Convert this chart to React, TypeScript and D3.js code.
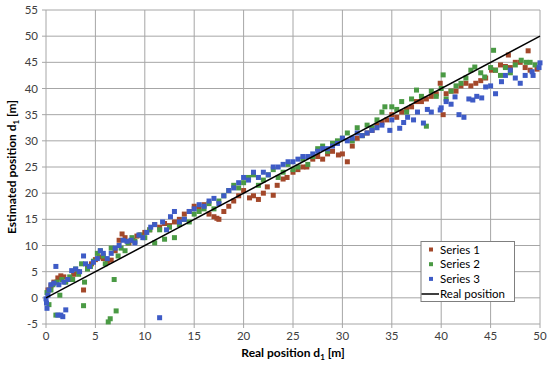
import React from "react";
import * as d3 from "d3";

const xTicks = [0, 5, 10, 15, 20, 25, 30, 35, 40, 45, 50];
const yTicks = [-5, 0, 5, 10, 15, 20, 25, 30, 35, 40, 45, 50, 55];

const s1x = [0.2,0.5,0.8,1.2,1.5,1.8,2.3,2.8,3.2,3.8,4.2,4.6,5.0,5.4,5.8,6.2,6.6,7.0,7.4,7.7,8.0,8.4,8.8,9.2,9.6,10.0,10.5,11.0,11.5,12.0,12.5,13.0,13.5,14.0,14.5,15.0,15.5,16.0,16.5,17.0,17.3,17.5,18.0,18.5,19.0,19.5,20.0,20.6,21.0,21.5,22.0,22.4,23.0,23.4,24.0,24.4,25.0,25.5,26.0,26.4,27.0,27.5,28.0,28.5,29.0,29.6,30.0,30.5,31.0,31.5,32.0,32.5,33.0,33.5,34.0,34.5,35.0,35.5,36.0,36.5,37.0,37.5,38.0,38.5,39.0,39.5,39.9,40.2,40.5,41.0,41.5,42.0,42.5,43.0,43.5,44.0,44.5,45.1,45.5,46.0,46.5,46.8,47.0,47.5,48.0,48.5,48.8,49.0,49.7];
const s1y = [1.5,2.3,3.0,3.8,4.2,4.0,3.5,4.5,5.0,1.5,6.0,6.5,7.3,7.8,7.5,6.8,7.2,9.0,11.0,12.2,11.5,10.5,11.0,11.8,12.0,12.5,13.0,14.0,13.5,14.2,13.8,14.5,15.0,16.0,16.5,17.5,17.0,17.8,16.0,15.5,15.2,15.0,16.5,17.5,18.5,19.5,20.5,19.1,19.5,18.8,20.0,21.2,19.6,21.5,22.7,23.0,24.0,24.5,25.0,25.0,26.5,27.0,26.5,27.5,28.0,27.3,27.5,26.0,29.0,30.5,31.0,31.5,32.0,33.0,33.5,34.0,35.0,34.5,35.5,36.0,36.5,37.5,37.5,38.0,38.5,39.0,41.0,35.0,39.0,39.5,39.5,40.5,41.0,40.5,41.0,41.5,42.0,43.5,43.5,44.5,44.2,46.4,44.0,45.0,45.0,44.0,47.2,43.5,43.7];

const s2x = [0.1,0.3,0.5,0.7,1.0,1.1,1.4,1.6,2.0,2.4,2.7,3.0,3.3,3.6,3.8,3.9,4.2,4.5,4.8,5.2,5.5,5.8,6.0,6.3,6.5,6.6,6.9,7.1,7.3,7.6,8.0,8.3,8.7,9.0,9.5,10.0,10.5,11.0,11.5,12.0,12.5,13.0,13.5,14.0,14.5,15.0,15.5,16.0,16.5,17.0,17.5,18.0,18.5,19.0,19.5,20.0,20.5,21.0,21.5,22.0,22.5,23.0,23.5,24.0,24.5,25.0,25.5,26.0,26.5,27.0,27.5,28.0,28.5,29.0,29.5,30.0,30.5,31.0,31.5,32.0,32.5,33.0,33.5,34.0,34.3,35.0,35.5,36.0,36.5,37.0,37.5,38.0,38.5,39.0,39.5,40.0,40.2,40.5,41.0,41.5,42.0,42.5,43.0,43.4,44.0,44.4,45.0,45.3,45.5,46.0,46.5,47.0,47.5,48.1,48.6,49.0,49.5];
const s2y = [1.0,-1.3,1.5,2.5,-3.3,3.0,0.5,3.5,3.0,4.0,3.5,5.5,4.5,6.5,-1.5,3.0,5.5,6.0,7.0,8.5,9.0,8.0,6.5,-4.6,-4.0,9.5,3.5,-2.5,8.0,9.5,9.0,10.5,11.5,10.8,12.0,11.5,13.0,10.5,13.0,11.2,13.5,11.5,14.0,15.0,14.5,16.0,16.5,17.0,18.0,17.0,18.5,19.5,20.5,21.5,21.0,22.0,23.0,23.5,21.5,22.5,23.5,24.5,23.0,24.0,25.5,24.5,25.0,26.5,25.5,27.0,28.5,29.0,28.0,29.5,30.0,30.5,31.5,30.0,32.5,31.0,33.0,32.5,34.0,35.5,36.5,36.5,36.0,37.5,35.5,38.0,39.7,38.5,32.8,39.5,38.5,40.0,42.6,38.0,39.5,40.5,41.0,42.0,43.5,44.1,43.0,42.2,44.0,47.3,43.5,42.5,44.0,43.0,44.5,45.4,45.0,45.0,44.5];

const s3x = [0.0,0.05,0.1,0.2,0.3,0.5,0.8,1.0,1.2,1.3,1.5,1.7,1.8,2.0,2.2,2.6,3.0,3.4,3.8,4.0,4.4,4.8,5.2,5.5,5.8,6.2,6.6,7.0,7.4,7.8,8.2,8.6,9.0,9.4,9.8,10.2,10.6,11.0,11.5,11.8,12.2,12.6,13.0,13.5,14.0,14.5,15.0,15.5,16.0,16.5,17.0,17.5,18.0,18.5,19.0,19.5,20.0,20.5,21.0,21.5,22.0,22.5,23.0,23.5,24.0,24.5,25.0,25.5,26.0,26.5,27.0,27.5,28.0,28.5,29.0,29.5,30.0,30.5,31.0,31.5,32.0,32.5,33.0,33.5,34.0,34.8,35.0,35.8,36.2,36.6,37.2,37.6,38.2,38.6,39.0,39.9,40.0,40.5,41.0,41.4,41.8,42.3,42.8,43.2,43.6,44.1,44.5,45.0,45.5,46.1,46.5,47.0,47.5,48.0,48.5,49.2,49.3,49.9,50.0];
const s3y = [-0.2,-1.0,-2.0,0.5,1.5,2.5,2.8,6.0,-3.3,2.5,-3.3,-3.6,3.0,-2.3,3.5,5.2,5.5,5.0,8.0,6.5,6.0,6.8,7.5,9.0,8.5,7.5,8.5,9.5,10.0,11.0,10.8,11.0,10.5,12.0,11.5,12.5,13.5,14.0,-3.8,14.5,13.0,15.5,16.5,14.5,15.0,16.5,17.0,17.8,17.5,18.5,19.0,18.0,19.5,20.5,21.0,22.0,23.0,22.5,24.0,23.0,24.0,23.5,25.0,25.0,25.5,26.0,26.0,26.5,27.0,27.0,27.5,28.0,28.5,28.5,29.0,29.5,30.5,30.0,30.5,31.5,31.0,31.5,32.0,32.5,33.0,32.0,34.0,32.4,33.5,34.5,34.0,35.5,33.4,36.0,35.5,35.9,36.3,37.5,37.0,38.4,35.0,34.5,38.0,37.8,38.5,38.2,40.3,40.5,39.0,41.3,42.5,43.5,42.0,41.0,42.5,43.2,42.5,44.0,44.9];

const realX = [0, 50];
const realY = [0, 50];

const seriesNames = ["Series 1", "Series 2", "Series 3"];
const seriesColors = ["#A3482A", "#4A9A44", "#3E5BC6"];

export default function App() {
  const W = 550, H = 366;
  const x = d3.scaleLinear().domain([0, 50]).range([46, 540]);
  const y = d3.scaleLinear().domain([-5, 55]).range([324, 10]);
  const font = "Lato, 'Open Sans', sans-serif";
  const series = [
    { xs: s1x, ys: s1y },
    { xs: s2x, ys: s2y },
    { xs: s3x, ys: s3y },
  ];
  const line = d3.line<number>().x((_, i) => x(realX[i])).y((d) => y(d));
  const ms = 5;
  return (
    <svg width={W} height={H} style={{ position: "absolute", left: 0, top: 0, background: "#fff" }}>
      <rect width={W} height={H} fill="#fff" />
      {xTicks.map((t) => (
        <line key={"gx" + t} x1={x(t)} x2={x(t)} y1={y(55)} y2={y(-5) + 4} stroke="#a6a6a6" strokeWidth={1} />
      ))}
      {yTicks.map((t) => (
        <line key={"gy" + t} x1={x(0) - 4} x2={x(50)} y1={y(t)} y2={y(t)} stroke="#a6a6a6" strokeWidth={1} />
      ))}
      {xTicks.map((t) => (
        <text key={"tx" + t} x={x(t)} y={340} textAnchor="middle" fontSize={11.5} fontFamily={font} fill="#404040">{t}</text>
      ))}
      {yTicks.map((t) => (
        <text key={"ty" + t} x={38} y={y(t) + 4} textAnchor="end" fontSize={11.5} fontFamily={font} fill="#404040">{t}</text>
      ))}
      {series.map((s, si) => (
        <g key={"s" + si}>
          {s.xs.map((xv, i) => (
            <rect key={i} x={x(xv) - ms / 2} y={y(s.ys[i]) - ms / 2} width={ms} height={ms} fill={seriesColors[si]} />
          ))}
        </g>
      ))}
      <path d={line(realY) || ""} stroke="#000" strokeWidth={1.5} fill="none" />
      <text x={293} y={357} textAnchor="middle" fontSize={12} fontWeight="bold" fontFamily={font} fill="#000">
        Real position d<tspan fontSize={8} dy={3}>1</tspan><tspan dy={-3}> [m]</tspan>
      </text>
      <text transform={`translate(16,167) rotate(-90)`} textAnchor="middle" fontSize={12} fontWeight="bold" fontFamily={font} fill="#000">
        Estimated position d<tspan fontSize={8} dy={3}>1</tspan><tspan dy={-3}> [m]</tspan>
      </text>
      <g>
        <rect x={421} y={241.5} width={93.5} height={60} fill="#fff" stroke="#7f7f7f" strokeWidth={1} />
        {seriesNames.map((n, i) => (
          <g key={n}>
            <rect x={429} y={249.5 + i * 14.7 - 2} width={4} height={4} fill={seriesColors[i]} />
            <text x={440} y={249.5 + i * 14.7 + 4} fontSize={11.5} fontFamily={font} fill="#000">{n}</text>
          </g>
        ))}
        <line x1={421.5} x2={439} y1={294} y2={294} stroke="#000" strokeWidth={1.5} />
        <text x={440} y={298} fontSize={11.5} fontFamily={font} fill="#000">Real position</text>
      </g>
    </svg>
  );
}
